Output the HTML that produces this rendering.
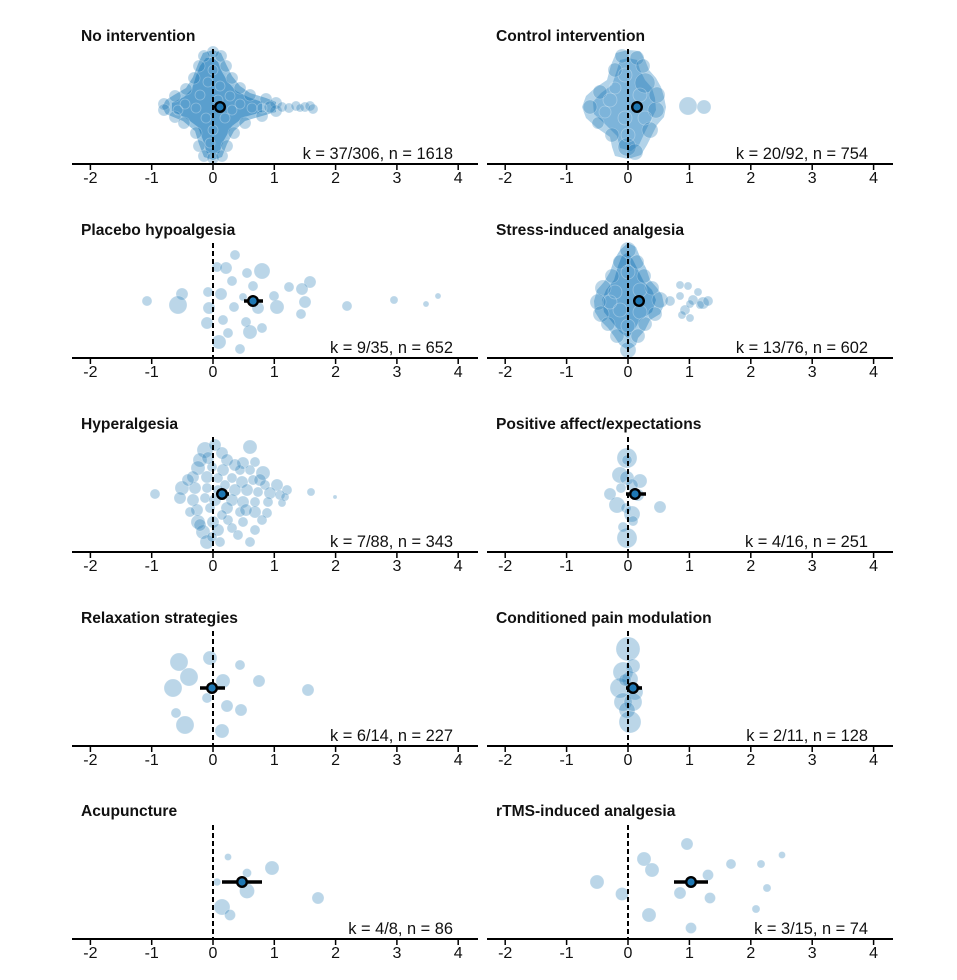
<!DOCTYPE html>
<html><head><meta charset="utf-8"><style>
html,body{margin:0;padding:0;background:#fff;}
svg{display:block;}
.t{font-family:"Liberation Sans",Arial,sans-serif;font-weight:bold;font-size:15.6px;fill:#111;}
.tk{font-family:"Liberation Sans",Arial,sans-serif;font-size:16px;fill:#111;text-anchor:middle;}
.k{font-family:"Liberation Sans",Arial,sans-serif;font-size:16.4px;fill:#111;text-anchor:end;}
.ax{stroke:#000;stroke-width:2;}
.tc{stroke:#000;stroke-width:1.5;}
.dl{stroke:#000;stroke-width:2;stroke-dasharray:5,3;}
.c circle{fill:#1f78b4;fill-opacity:.3;stroke:#fff;stroke-opacity:.35;stroke-width:.6;}
.tx circle{fill:none;stroke:#fff;stroke-opacity:.3;stroke-width:.8;}
.ci{stroke:#000;stroke-width:3.6;}
.m{fill:#1f78b4;stroke:#000;stroke-width:2.4;}
</style></head><body>
<svg width="957" height="980" viewBox="0 0 957 980" xmlns="http://www.w3.org/2000/svg">
<rect width="957" height="980" fill="#fff"/>

<!-- ================= Row 1 ================= -->
<!-- No intervention -->
<text class="t" x="81" y="41">No intervention</text>
<path d="M213,50 L221,53 L226,64 L232,76 L240,86 L250,93 L266,98 L276,102 L276,112 L262,116 L245,121 L234,131 L227,144 L222,157 L213,160 L204,157 L199,144 L195,131 L183,121 L166,114 L162,107 L166,100 L174,95 L186,88 L193,77 L198,64 L203,53 Z" fill="#98c4e1"/>
<path d="M213,58 L218,62 L222,72 L228,82 L236,91 L248,97 L262,102 L262,112 L244,117 L232,126 L224,140 L219,153 L207,153 L203,140 L198,127 L186,118 L172,111 L172,103 L184,97 L192,89 L196,76 L200,66 L206,58 Z" fill="#5a9fce"/>
<g class="c">
<circle cx="213" cy="52" r="6"/><circle cx="221" cy="56" r="6"/><circle cx="204" cy="56" r="6"/><circle cx="226" cy="66" r="6"/><circle cx="199" cy="66" r="6"/><circle cx="232" cy="78" r="6"/><circle cx="194" cy="78" r="6"/><circle cx="240" cy="88" r="6"/><circle cx="186" cy="89" r="6"/><circle cx="250" cy="95" r="6"/><circle cx="175" cy="96" r="6"/><circle cx="164" cy="104" r="6"/><circle cx="164" cy="110" r="6"/><circle cx="175" cy="117" r="6"/><circle cx="184" cy="123" r="6"/><circle cx="196" cy="133" r="6"/><circle cx="199" cy="146" r="6"/><circle cx="204" cy="156" r="6"/><circle cx="213" cy="158" r="6"/><circle cx="222" cy="156" r="6"/><circle cx="227" cy="146" r="6"/><circle cx="234" cy="133" r="6"/><circle cx="245" cy="123" r="6"/><circle cx="262" cy="116" r="6"/><circle cx="266" cy="99" r="6"/><circle cx="276" cy="103" r="6"/><circle cx="276" cy="111" r="6"/>
<circle cx="270" cy="107" r="6"/><circle cx="282" cy="107" r="5"/><circle cx="289" cy="108" r="5"/><circle cx="296" cy="106" r="5"/><circle cx="300" cy="108" r="4"/><circle cx="305" cy="107" r="5"/><circle cx="310" cy="106" r="5"/><circle cx="313" cy="109" r="5"/>
</g>
<g class="tx">
<circle cx="213" cy="70" r="5"/><circle cx="208" cy="82" r="5"/><circle cx="220" cy="86" r="5"/><circle cx="200" cy="95" r="5"/><circle cx="230" cy="96" r="5"/><circle cx="185" cy="104" r="5"/><circle cx="196" cy="108" r="5"/><circle cx="240" cy="104" r="5"/><circle cx="252" cy="108" r="5"/><circle cx="206" cy="118" r="5"/><circle cx="225" cy="118" r="5"/><circle cx="213" cy="130" r="5"/><circle cx="210" cy="143" r="5"/><circle cx="218" cy="100" r="5"/><circle cx="178" cy="110" r="5"/><circle cx="262" cy="108" r="5"/><circle cx="232" cy="110" r="5"/>
</g>
<line class="dl" x1="213" y1="49" x2="213" y2="164"/>
<circle class="m" cx="220" cy="107" r="4.8"/>
<text class="k" x="453" y="159">k = 37/306, n = 1618</text>
<line class="ax" x1="72" y1="164" x2="478" y2="164"/>

<!-- Control intervention -->
<text class="t" x="496" y="41">Control intervention</text>
<path d="M628,50 L640,51 L645,60 L649,70 L656,78 L661,87 L664,97 L666,107 L664,117 L657,125 L652,135 L647,145 L641,155 L628,159 L615,156 L612,147 L610,137 L597,128 L586,118 L582,107 L586,96 L595,88 L607,80 L611,65 L616,53 Z" fill="#b2d3e9"/>
<path d="M628,58 L637,60 L640,70 L645,80 L652,88 L655,98 L656,110 L651,120 L645,132 L639,145 L631,151 L620,148 L617,136 L605,124 L594,114 L593,102 L601,93 L612,85 L617,70 L620,60 Z" fill="#7db4da"/>
<g class="c">
<circle cx="637" cy="58" r="7"/><circle cx="622" cy="56" r="7"/><circle cx="645" cy="83" r="10"/><circle cx="656" cy="110" r="8"/><circle cx="600" cy="92" r="7"/><circle cx="590" cy="107" r="7"/><circle cx="598" cy="123" r="6"/><circle cx="627" cy="147" r="9"/><circle cx="635" cy="152" r="8"/><circle cx="615" cy="70" r="7"/><circle cx="650" cy="130" r="8"/><circle cx="612" cy="135" r="7"/><circle cx="657" cy="95" r="8"/><circle cx="643" cy="66" r="7"/>
<circle cx="688" cy="106" r="9"/><circle cx="704" cy="107" r="7"/>
</g>
<g class="tx">
<circle cx="625" cy="75" r="7"/><circle cx="640" cy="95" r="7"/><circle cx="610" cy="100" r="7"/><circle cx="625" cy="118" r="7"/><circle cx="645" cy="118" r="7"/><circle cx="628" cy="135" r="7"/><circle cx="605" cy="112" r="6"/><circle cx="615" cy="88" r="6"/>
</g>
<line class="dl" x1="628" y1="49" x2="628" y2="164"/>
<circle class="m" cx="637" cy="107" r="4.8"/>
<text class="k" x="868" y="159">k = 20/92, n = 754</text>
<line class="ax" x1="487" y1="164" x2="893" y2="164"/>

<!-- ================= Row 2 ================= -->
<!-- Placebo hypoalgesia -->
<text class="t" x="81" y="235">Placebo hypoalgesia</text>
<g class="c">
<circle cx="235" cy="255" r="5"/><circle cx="217" cy="267" r="5"/><circle cx="226" cy="268" r="6"/><circle cx="262" cy="271" r="8"/><circle cx="247" cy="273" r="5"/><circle cx="232" cy="281" r="5"/><circle cx="310" cy="282" r="6"/><circle cx="289" cy="287" r="5"/><circle cx="253" cy="286" r="5"/><circle cx="302" cy="289" r="6"/><circle cx="208" cy="292" r="5"/><circle cx="221" cy="294" r="6"/><circle cx="182" cy="294" r="6"/><circle cx="147" cy="301" r="5"/><circle cx="178" cy="305" r="9"/><circle cx="243" cy="297" r="4"/><circle cx="274" cy="296" r="5"/><circle cx="305" cy="302" r="6"/><circle cx="277" cy="307" r="7"/><circle cx="258" cy="308" r="6"/><circle cx="234" cy="307" r="5"/><circle cx="209" cy="308" r="6"/><circle cx="347" cy="306" r="5"/><circle cx="394" cy="300" r="4"/><circle cx="426" cy="304" r="3"/><circle cx="438" cy="296" r="3"/><circle cx="301" cy="314" r="5"/><circle cx="207" cy="323" r="6"/><circle cx="223" cy="320" r="5"/><circle cx="246" cy="322" r="5"/><circle cx="262" cy="328" r="5"/><circle cx="250" cy="332" r="7"/><circle cx="228" cy="333" r="5"/><circle cx="219" cy="342" r="7"/><circle cx="240" cy="349" r="5"/>
</g>
<line class="dl" x1="213" y1="243" x2="213" y2="358"/>
<line class="ci" x1="244" y1="301" x2="263" y2="301"/>
<circle class="m" cx="253" cy="301" r="4.8"/>
<text class="k" x="453" y="353">k = 9/35, n = 652</text>
<line class="ax" x1="72" y1="358" x2="478" y2="358"/>

<!-- Stress-induced analgesia -->
<text class="t" x="496" y="235">Stress-induced analgesia</text>
<path d="M628,243 L636,247 L640,257 L646,268 L650,280 L657,288 L662,295 L664,305 L660,314 L650,320 L645,330 L638,338 L636,345 L628,350 L620,345 L614,336 L608,328 L600,320 L595,312 L594,301 L597,290 L604,282 L610,272 L614,260 L620,250 Z" fill="#a6cde7"/>
<path d="M628,252 L633,260 L638,270 L644,282 L652,290 L656,300 L652,312 L640,320 L634,330 L628,338 L620,332 L612,322 L604,312 L602,300 L606,290 L614,280 L618,266 L622,256 Z" fill="#67a7d3"/>
<g class="c">
<circle cx="628" cy="250" r="8"/><circle cx="628" cy="350" r="8"/><circle cx="620" cy="262" r="7"/><circle cx="637" cy="262" r="7"/><circle cx="612" cy="276" r="7"/><circle cx="644" cy="276" r="7"/><circle cx="603" cy="288" r="8"/><circle cx="652" cy="288" r="7"/><circle cx="598" cy="302" r="8"/><circle cx="660" cy="300" r="8"/><circle cx="601" cy="314" r="8"/><circle cx="655" cy="314" r="7"/><circle cx="608" cy="324" r="7"/><circle cx="645" cy="324" r="7"/><circle cx="617" cy="336" r="7"/><circle cx="638" cy="336" r="7"/>
<circle cx="670" cy="301" r="5"/><circle cx="680" cy="296" r="4"/><circle cx="688" cy="286" r="4"/><circle cx="693" cy="300" r="5"/><circle cx="700" cy="305" r="4"/><circle cx="698" cy="292" r="4"/><circle cx="703" cy="303" r="6"/><circle cx="708" cy="301" r="5"/><circle cx="685" cy="310" r="5"/><circle cx="682" cy="315" r="4"/><circle cx="690" cy="318" r="4"/><circle cx="680" cy="285" r="4"/><circle cx="690" cy="304" r="4"/>
</g>
<g class="tx">
<circle cx="628" cy="272" r="7"/><circle cx="615" cy="292" r="7"/><circle cx="640" cy="290" r="7"/><circle cx="620" cy="310" r="7"/><circle cx="640" cy="312" r="7"/><circle cx="628" cy="326" r="7"/><circle cx="610" cy="302" r="7"/>
</g>
<line class="dl" x1="628" y1="243" x2="628" y2="358"/>
<circle class="m" cx="639" cy="301" r="4.8"/>
<text class="k" x="868" y="353">k = 13/76, n = 602</text>
<line class="ax" x1="487" y1="358" x2="893" y2="358"/>

<!-- ================= Row 3 ================= -->
<!-- Hyperalgesia -->
<text class="t" x="81" y="429">Hyperalgesia</text>
<g class="c">
<circle cx="155" cy="494" r="5"/><circle cx="250" cy="447" r="7"/><circle cx="205" cy="450" r="8"/><circle cx="215" cy="445" r="6"/><circle cx="222" cy="453" r="6"/>
<circle cx="200" cy="460" r="7"/><circle cx="227" cy="460" r="6"/><circle cx="243" cy="463" r="6"/><circle cx="255" cy="462" r="5"/><circle cx="198" cy="468" r="7"/><circle cx="212" cy="467" r="5"/><circle cx="223" cy="470" r="6"/><circle cx="240" cy="470" r="5"/><circle cx="250" cy="470" r="5"/><circle cx="263" cy="473" r="7"/><circle cx="193" cy="477" r="6"/><circle cx="207" cy="477" r="6"/><circle cx="218" cy="478" r="5"/><circle cx="232" cy="478" r="5"/><circle cx="242" cy="482" r="6"/><circle cx="253" cy="480" r="5"/><circle cx="265" cy="485" r="5"/><circle cx="277" cy="485" r="6"/><circle cx="287" cy="490" r="5"/><circle cx="182" cy="488" r="7"/><circle cx="195" cy="488" r="6"/><circle cx="207" cy="488" r="5"/><circle cx="235" cy="490" r="6"/><circle cx="247" cy="490" r="6"/><circle cx="258" cy="492" r="5"/><circle cx="270" cy="493" r="6"/><circle cx="280" cy="495" r="5"/><circle cx="285" cy="497" r="4"/><circle cx="180" cy="498" r="6"/><circle cx="193" cy="500" r="6"/><circle cx="205" cy="498" r="5"/><circle cx="232" cy="500" r="6"/><circle cx="243" cy="502" r="6"/><circle cx="255" cy="502" r="5"/><circle cx="268" cy="502" r="5"/><circle cx="282" cy="503" r="4"/><circle cx="197" cy="510" r="6"/><circle cx="210" cy="508" r="5"/><circle cx="227" cy="508" r="6"/><circle cx="240" cy="512" r="5"/><circle cx="255" cy="512" r="6"/><circle cx="267" cy="513" r="5"/><circle cx="198" cy="522" r="7"/><circle cx="213" cy="522" r="6"/><circle cx="228" cy="520" r="5"/><circle cx="243" cy="522" r="5"/><circle cx="255" cy="530" r="5"/><circle cx="203" cy="532" r="7"/><circle cx="218" cy="530" r="6"/><circle cx="232" cy="528" r="5"/><circle cx="207" cy="542" r="7"/><circle cx="220" cy="542" r="5"/><circle cx="250" cy="542" r="5"/><circle cx="212" cy="537" r="5"/>
<circle cx="218" cy="490" r="5"/><circle cx="190" cy="512" r="5"/><circle cx="225" cy="485" r="5"/><circle cx="262" cy="520" r="5"/><circle cx="238" cy="535" r="5"/><circle cx="222" cy="515" r="5"/>
<circle cx="208" cy="458" r="6"/><circle cx="188" cy="480" r="6"/><circle cx="260" cy="480" r="6"/><circle cx="215" cy="500" r="6"/><circle cx="246" cy="510" r="6"/><circle cx="200" cy="525" r="6"/><circle cx="235" cy="465" r="6"/>
<circle cx="311" cy="492" r="4"/><circle cx="335" cy="497" r="2"/>
</g>
<line class="dl" x1="213" y1="437" x2="213" y2="552"/>
<line class="ci" x1="217" y1="494" x2="229" y2="494"/>
<circle class="m" cx="222" cy="494" r="4.8"/>
<text class="k" x="453" y="547">k = 7/88, n = 343</text>
<line class="ax" x1="72" y1="552" x2="478" y2="552"/>

<!-- Positive affect/expectations -->
<text class="t" x="496" y="429">Positive affect/expectations</text>
<g class="c">
<circle cx="627" cy="458" r="10"/><circle cx="620" cy="475" r="8"/><circle cx="627" cy="478" r="7"/><circle cx="640" cy="481" r="7"/><circle cx="632" cy="485" r="6"/><circle cx="610" cy="494" r="6"/><circle cx="638" cy="495" r="6"/><circle cx="617" cy="505" r="8"/><circle cx="626" cy="508" r="5"/><circle cx="660" cy="507" r="6"/><circle cx="632" cy="514" r="8"/><circle cx="633" cy="521" r="5"/><circle cx="623" cy="527" r="5"/><circle cx="627" cy="538" r="10"/><circle cx="627" cy="460" r="5"/><circle cx="621" cy="488" r="5"/>
</g>
<line class="dl" x1="628" y1="437" x2="628" y2="552"/>
<line class="ci" x1="626" y1="494" x2="646" y2="494"/>
<circle class="m" cx="635" cy="494" r="4.8"/>
<text class="k" x="868" y="547">k = 4/16, n = 251</text>
<line class="ax" x1="487" y1="552" x2="893" y2="552"/>

<!-- ================= Row 4 ================= -->
<!-- Relaxation strategies -->
<text class="t" x="81" y="623">Relaxation strategies</text>
<g class="c">
<circle cx="179" cy="662" r="9"/><circle cx="210" cy="658" r="7"/><circle cx="240" cy="665" r="5"/><circle cx="189" cy="677" r="9"/><circle cx="223" cy="681" r="7"/><circle cx="259" cy="681" r="6"/><circle cx="173" cy="688" r="9"/><circle cx="308" cy="690" r="6"/><circle cx="207" cy="698" r="5"/><circle cx="227" cy="706" r="6"/><circle cx="241" cy="710" r="6"/><circle cx="176" cy="713" r="5"/><circle cx="185" cy="725" r="9"/><circle cx="222" cy="731" r="7"/>
</g>
<line class="dl" x1="213" y1="631" x2="213" y2="746"/>
<line class="ci" x1="200" y1="688" x2="225" y2="688"/>
<circle class="m" cx="212" cy="688" r="4.8"/>
<text class="k" x="453" y="741">k = 6/14, n = 227</text>
<line class="ax" x1="72" y1="746" x2="478" y2="746"/>

<!-- Conditioned pain modulation -->
<text class="t" x="496" y="623">Conditioned pain modulation</text>
<g class="c">
<circle cx="628" cy="649" r="12"/><circle cx="633" cy="666" r="7"/><circle cx="623" cy="672" r="10"/><circle cx="630" cy="679" r="8"/><circle cx="620" cy="688" r="10"/><circle cx="635" cy="692" r="8"/><circle cx="623" cy="702" r="9"/><circle cx="633" cy="702" r="9"/><circle cx="627" cy="710" r="8"/><circle cx="630" cy="722" r="11"/><circle cx="625" cy="680" r="6"/>
</g>
<line class="dl" x1="628" y1="631" x2="628" y2="746"/>
<line class="ci" x1="626" y1="688" x2="642" y2="688"/>
<circle class="m" cx="633" cy="688" r="4.8"/>
<text class="k" x="868" y="741">k = 2/11, n = 128</text>
<line class="ax" x1="487" y1="746" x2="893" y2="746"/>

<!-- ================= Row 5 ================= -->
<!-- Acupuncture -->
<text class="t" x="81" y="816">Acupuncture</text>
<g class="c">
<circle cx="228" cy="857" r="3.5"/><circle cx="272" cy="868" r="7"/><circle cx="247" cy="873" r="4.5"/><circle cx="217" cy="882" r="3.8"/><circle cx="247" cy="891" r="7.5"/><circle cx="318" cy="898" r="6"/><circle cx="222" cy="907" r="8"/><circle cx="230" cy="915" r="5.5"/>
</g>
<line class="dl" x1="213" y1="825" x2="213" y2="939"/>
<line class="ci" x1="222" y1="882" x2="262" y2="882"/>
<circle class="m" cx="242" cy="882" r="4.8"/>
<text class="k" x="453" y="934">k = 4/8, n = 86</text>
<line class="ax" x1="72" y1="939" x2="478" y2="939"/>

<!-- rTMS-induced analgesia -->
<text class="t" x="496" y="816">rTMS-induced analgesia</text>
<g class="c">
<circle cx="687" cy="844" r="6"/><circle cx="782" cy="855" r="3.5"/><circle cx="644" cy="859" r="7"/><circle cx="731" cy="864" r="5"/><circle cx="761" cy="864" r="4"/><circle cx="652" cy="870" r="7"/><circle cx="708" cy="875" r="5.5"/><circle cx="597" cy="882" r="7"/><circle cx="767" cy="888" r="4"/><circle cx="622" cy="894" r="6.5"/><circle cx="680" cy="893" r="6"/><circle cx="710" cy="898" r="5.5"/><circle cx="756" cy="909" r="4"/><circle cx="649" cy="915" r="7"/><circle cx="691" cy="928" r="5.5"/>
</g>
<line class="dl" x1="628" y1="825" x2="628" y2="939"/>
<line class="ci" x1="674" y1="882" x2="708" y2="882"/>
<circle class="m" cx="691" cy="882" r="4.8"/>
<text class="k" x="868" y="934">k = 3/15, n = 74</text>
<line class="ax" x1="487" y1="939" x2="893" y2="939"/>

<!-- ================= Ticks and labels ================= -->
<g class="tc">
<path d="M90.4,164v6M151.7,164v6M213,164v6M274.3,164v6M335.6,164v6M396.9,164v6M458.2,164v6"/>
<path d="M90.4,358v6M151.7,358v6M213,358v6M274.3,358v6M335.6,358v6M396.9,358v6M458.2,358v6"/>
<path d="M90.4,552v6M151.7,552v6M213,552v6M274.3,552v6M335.6,552v6M396.9,552v6M458.2,552v6"/>
<path d="M90.4,746v6M151.7,746v6M213,746v6M274.3,746v6M335.6,746v6M396.9,746v6M458.2,746v6"/>
<path d="M90.4,939v6M151.7,939v6M213,939v6M274.3,939v6M335.6,939v6M396.9,939v6M458.2,939v6"/>
<path d="M505.2,164v6M566.6,164v6M628,164v6M689.4,164v6M750.8,164v6M812.2,164v6M873.6,164v6"/>
<path d="M505.2,358v6M566.6,358v6M628,358v6M689.4,358v6M750.8,358v6M812.2,358v6M873.6,358v6"/>
<path d="M505.2,552v6M566.6,552v6M628,552v6M689.4,552v6M750.8,552v6M812.2,552v6M873.6,552v6"/>
<path d="M505.2,746v6M566.6,746v6M628,746v6M689.4,746v6M750.8,746v6M812.2,746v6M873.6,746v6"/>
<path d="M505.2,939v6M566.6,939v6M628,939v6M689.4,939v6M750.8,939v6M812.2,939v6M873.6,939v6"/>
</g>
<g class="tk">
<text x="90.4" y="183">-2</text><text x="151.7" y="183">-1</text><text x="213" y="183">0</text><text x="274.3" y="183">1</text><text x="335.6" y="183">2</text><text x="396.9" y="183">3</text><text x="458.2" y="183">4</text>
<text x="505.2" y="183">-2</text><text x="566.6" y="183">-1</text><text x="628" y="183">0</text><text x="689.4" y="183">1</text><text x="750.8" y="183">2</text><text x="812.2" y="183">3</text><text x="873.6" y="183">4</text>

<text x="90.4" y="377">-2</text><text x="151.7" y="377">-1</text><text x="213" y="377">0</text><text x="274.3" y="377">1</text><text x="335.6" y="377">2</text><text x="396.9" y="377">3</text><text x="458.2" y="377">4</text>
<text x="505.2" y="377">-2</text><text x="566.6" y="377">-1</text><text x="628" y="377">0</text><text x="689.4" y="377">1</text><text x="750.8" y="377">2</text><text x="812.2" y="377">3</text><text x="873.6" y="377">4</text>

<text x="90.4" y="571">-2</text><text x="151.7" y="571">-1</text><text x="213" y="571">0</text><text x="274.3" y="571">1</text><text x="335.6" y="571">2</text><text x="396.9" y="571">3</text><text x="458.2" y="571">4</text>
<text x="505.2" y="571">-2</text><text x="566.6" y="571">-1</text><text x="628" y="571">0</text><text x="689.4" y="571">1</text><text x="750.8" y="571">2</text><text x="812.2" y="571">3</text><text x="873.6" y="571">4</text>

<text x="90.4" y="765">-2</text><text x="151.7" y="765">-1</text><text x="213" y="765">0</text><text x="274.3" y="765">1</text><text x="335.6" y="765">2</text><text x="396.9" y="765">3</text><text x="458.2" y="765">4</text>
<text x="505.2" y="765">-2</text><text x="566.6" y="765">-1</text><text x="628" y="765">0</text><text x="689.4" y="765">1</text><text x="750.8" y="765">2</text><text x="812.2" y="765">3</text><text x="873.6" y="765">4</text>

<text x="90.4" y="958">-2</text><text x="151.7" y="958">-1</text><text x="213" y="958">0</text><text x="274.3" y="958">1</text><text x="335.6" y="958">2</text><text x="396.9" y="958">3</text><text x="458.2" y="958">4</text>
<text x="505.2" y="958">-2</text><text x="566.6" y="958">-1</text><text x="628" y="958">0</text><text x="689.4" y="958">1</text><text x="750.8" y="958">2</text><text x="812.2" y="958">3</text><text x="873.6" y="958">4</text>
</g>
</svg>
</body></html>
